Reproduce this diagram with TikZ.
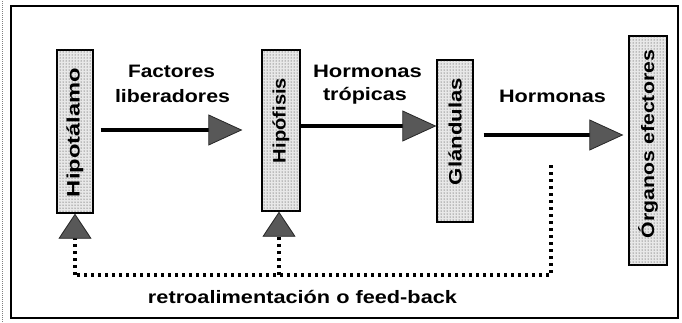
\documentclass[tikz,border=0pt]{standalone}
\usepackage{fontspec}
\setmainfont{Liberation Sans}
\usetikzlibrary{arrows.meta,patterns}
\newcommand\stw[2]{\resizebox{#1pt}{\height}{#2}}
\definecolor{tipgray}{RGB}{88,88,88}
\begin{document}
\begin{tikzpicture}[x=1pt,y=1pt,
  box/.style={draw=black, line width=1.3pt, fill=gray!18,
    postaction={pattern=dots, pattern color=black!85}, inner sep=0pt},
  txt/.style={font=\fontsize{18}{22}\selectfont\bfseries, inner sep=0pt},
  lbl/.style={txt, anchor=base},
  flow/.style={line width=3.8pt,
    -{Triangle[length=34pt,width=31pt,line width=0.8pt,color=black!85,fill=tipgray]}},
  fbdots/.style={line width=3.2pt, dash pattern=on 3.2pt off 3.8pt},
  fbup/.style={fbdots,
    -{Triangle[length=25pt,width=33pt,line width=0.8pt,color=black!85,fill=tipgray]}}]
\useasboundingbox (0,0) rectangle (682,322);
\fill[white] (0,0) rectangle (682,322);
% page edge and frame
\draw[gray, line width=1pt, dash pattern=on 1pt off 1pt] (2,0) -- (2,322);
\draw[line width=2.2pt] (11,4) rectangle (678,316);
% boxes
\node[box, minimum width=36pt, minimum height=163pt] (hipo) at (75,190.5) {};
\node[box, minimum width=38pt, minimum height=161pt] (hipof) at (281,191.5) {};
\node[box, minimum width=36pt, minimum height=162pt] (glan) at (455,181) {};
\node[box, minimum width=38pt, minimum height=229pt] (org) at (648,171.5) {};
% box texts
\node[txt] (thipo) at (75,189.5) {\rotatebox{90}{\stw{129}{Hipotálamo}}};
\node[txt] (thipof) at (281,201.5) {\rotatebox{90}{\stw{85}{Hipófisis}}};
\node[txt] (tglan) at (455,190.5) {\rotatebox{90}{\stw{107}{Glándulas}}};
\node[txt] (torg) at (648,178) {\rotatebox{90}{\stw{188}{Órganos efectores}}};
% labels
\node[lbl] (l1a) at (171.5,244) {\stw{87}{Factores}};
\node[lbl] (l1b) at (172.5,220) {\stw{115}{liberadores}};
\node[lbl] (l2a) at (367.5,244) {\stw{109}{Hormonas}};
\node[lbl] (l2b) at (365,222) {\stw{84}{trópicas}};
\node[lbl] (l3) at (552.5,220) {\stw{107}{Hormonas}};
\node[lbl] (lfb) at (302.5,19) {\stw{309}{retroalimentación o feed-back}};
% flow arrows
\coordinate (y1) at (0,192);
\coordinate (y2) at (0,196);
\coordinate (y3) at (0,187);
\draw[flow, shorten <=7pt, shorten >=19pt] (hipo.east |- y1) -- (hipof.west |- y1);
\draw[flow] (hipof.east |- y2) -- (glan.west |- y2);
\draw[flow, shorten <=10pt, shorten >=5pt] (glan.east |- y3) -- (org.west |- y3);
% feedback
\coordinate (fbstart) at (551,157);
\coordinate (fbcorner) at (551,47);
\coordinate (fbleft) at (75,47);
\coordinate (fbmid) at (279,47);
\draw[fbdots] (fbstart) -- (fbcorner) -- (fbleft);
\draw[fbup] (fbleft) -- (hipo.south);
\draw[fbup] (fbmid) -- (fbmid |- hipof.south);
\end{tikzpicture}
\end{document}
